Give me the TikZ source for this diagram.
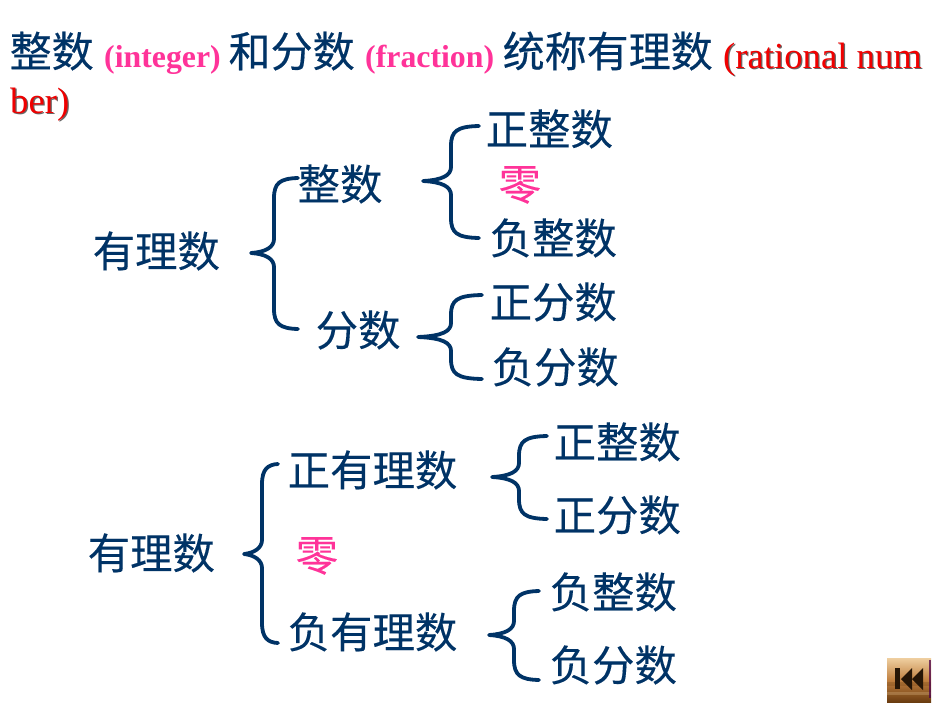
\documentclass[tikz,border=0pt]{standalone}
\usepackage{fontspec}
\setmainfont{Liberation Serif}
\newfontfamily\cjk[FakeBold=0.2]{Noto Sans CJK SC}
\newfontfamily\cjkbold[FakeBold=0.4]{Noto Sans CJK SC}
\definecolor{navy}{HTML}{003366}
\definecolor{hotpink}{HTML}{FF3399}
\definecolor{redtext}{HTML}{F00000}
\definecolor{btndark}{HTML}{6A3C10}
\definecolor{btnmid}{HTML}{C08040}
\definecolor{btnlight}{HTML}{EFCFA0}
\tikzset{
  term/.style={anchor=base west,inner sep=0pt,text=navy,font=\cjk\fontsize{42.4}{42}\selectfont},
  zero/.style={term,text=hotpink},
  titlecn/.style={anchor=base west,inner sep=0pt,text=navy,font=\cjkbold\fontsize{42}{42}\selectfont},
  titleen/.style={anchor=base west,inner sep=0pt,text=hotpink,font=\bfseries\fontsize{31.8}{32}\selectfont},
  titlered/.style={anchor=base west,inner sep=0pt,text=redtext,font=\fontsize{36.7}{36.7}\selectfont},
  bracket/.style={draw=navy,line width=3.8pt,line cap=round,line join=round}
}
\newcommand{\shadowed}[1]{\rlap{\kern1.2pt\raisebox{-1.2pt}{\textcolor{black!60}{#1}}}#1}
% name, tip x, mid y, spine x, end x, top y, bottom y
\newcommand{\bracedraw}[7]{
  \coordinate (#1-tip) at (#2,#3);
  \coordinate (#1-top) at (#5,#6);
  \coordinate (#1-bot) at (#5,#7);
  \draw[bracket] (#1-top) .. controls (#4+6,#6+0.5) and (#4,#6+5) .. (#4,#6+20)
    -- (#4,#3-14) .. controls (#4,#3-6) and (#4-8,#3-1) .. (#1-tip)
    .. controls (#4-8,#3+1) and (#4,#3+6) .. (#4,#3+14)
    -- (#4,#7-20) .. controls (#4,#7-5) and (#4+6,#7-0.5) .. (#1-bot);
}
\begin{document}
\begin{tikzpicture}[x=1pt,y=-1pt]
\useasboundingbox (0,0) rectangle (950,713);
\fill[white] (0,0) rectangle (950,713);
% title
\node[titlecn] (t1) at (9.5,67) {整数};
\node[titleen] (t2) at (104,67) {(integer)};
\node[titlecn] (t3) at (228.5,67) {和分数};
\node[titleen] (t4) at (365,67) {(fraction)};
\node[titlecn] (t5) at (502.5,67) {统称有理数};
\node[titlered] (t6) at (723,68) {\shadowed{(rational num}};
\node[titlered] (t7) at (10,113) {\shadowed{ber)}};
% upper tree
\node[term] (a0) at (92.5,267) {有理数};
\node[term] (a1) at (297.5,200) {整数};
\node[term] (a2) at (315.5,346) {分数};
\node[term] (a3) at (485.5,145) {正整数};
\node[zero] (a4) at (498.5,200) {零};
\node[term] (a5) at (489.5,254) {负整数};
\node[term] (a6) at (489.5,318) {正分数};
\node[term] (a7) at (491.5,383) {负分数};
\bracedraw{b1}{251}{253}{274}{298}{178}{329}
\bracedraw{b2}{423}{181}{451}{479}{126}{238}
\bracedraw{b3}{418}{337}{451}{482}{295}{379}
% lower tree
\node[term] (c0) at (87.5,569) {有理数};
\node[term] (c1) at (287.5,486) {正有理数};
\node[zero] (c2) at (295.5,571) {零};
\node[term] (c3) at (287.5,648) {负有理数};
\node[term] (c4) at (553.5,458) {正整数};
\node[term] (c5) at (553.5,531) {正分数};
\node[term] (c6) at (549.5,608) {负整数};
\node[term] (c7) at (549.5,681) {负分数};
\bracedraw{b4}{244}{554}{262}{278}{464}{643}
\bracedraw{b5}{492}{477}{519}{547}{436}{519}
\bracedraw{b6}{489}{635}{514}{539}{591}{680}
% back button
\fill[top color=btnlight,bottom color=btndark,middle color=btnmid] (887,658) rectangle (931,702);
\fill[btndark,opacity=.25] (887,682) rectangle (931,686);
\fill[btnlight,opacity=.25] (887,692) rectangle (931,695);
\fill[violet!60!black,opacity=.75] (929,660) rectangle (931,698);
\fill[btndark!35!black] (895,668) rectangle (900,689);
\fill[btndark!35!black] (912,668) -- (912,690) -- (901,679) -- cycle;
\fill[btndark!35!black] (923,668) -- (923,690) -- (912,679) -- cycle;
\end{tikzpicture}
\end{document}
